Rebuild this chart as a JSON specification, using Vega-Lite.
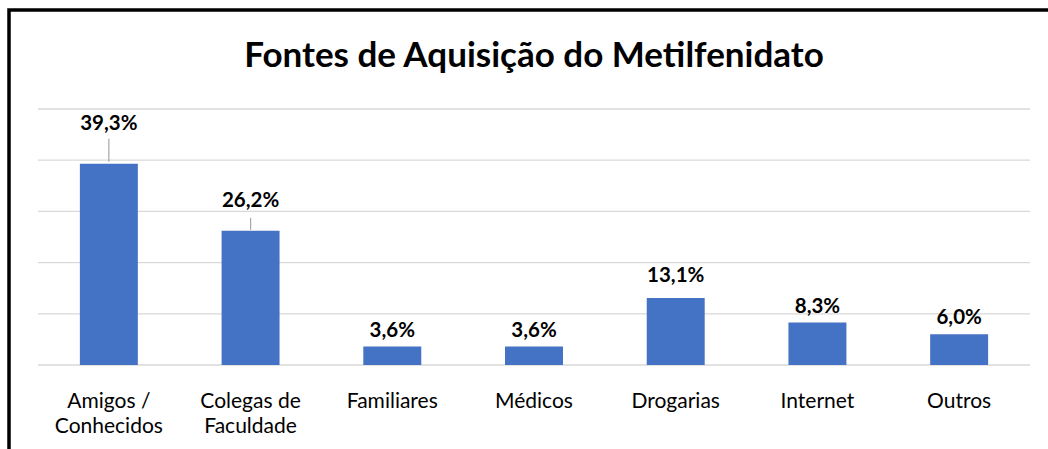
{
  "$schema": "https://vega.github.io/schema/vega-lite/v6.json",
  "width": 1044,
  "height": 449,
  "autosize": "none",
  "padding": {"left": 9, "top": 10, "right": -5, "bottom": -10},
  "background": "white",
  "config": {
    "view": {"stroke": "black", "strokeWidth": 3.5},
    "font": "Lato",
    "locale": {"number": {"decimal": ",", "thousands": ".", "grouping": [3], "currency": ["", ""]}}
  },
  "title": {
    "text": "Fontes de Aquisição do Metilfenidato",
    "font": "Lato",
    "fontSize": 35,
    "fontWeight": "bold",
    "color": "black",
    "anchor": "middle",
    "frame": "group",
    "baseline": "alphabetic",
    "offset": -92,
    "dx": 3
  },
  "data": {
    "values": [
      {"fonte": "Amigos / Conhecidos", "v": 0.393},
      {"fonte": "Colegas de Faculdade", "v": 0.262},
      {"fonte": "Familiares", "v": 0.036},
      {"fonte": "Médicos", "v": 0.036},
      {"fonte": "Drogarias", "v": 0.131},
      {"fonte": "Internet", "v": 0.083},
      {"fonte": "Outros", "v": 0.060}
    ]
  },
  "encoding": {
    "x": {
      "field": "fonte",
      "type": "nominal",
      "sort": null,
      "scale": {
        "domain": ["Amigos / Conhecidos", "Colegas de Faculdade", "Familiares", "Médicos", "Drogarias", "Internet", "Outros"],
        "range": [29, 1021],
        "paddingInner": 0.591,
        "paddingOuter": 0.2955
      },
      "axis": {
        "orient": "bottom",
        "offset": -94,
        "title": null,
        "domain": false,
        "ticks": false,
        "grid": false,
        "labelAngle": 0,
        "labelFont": "Lato",
        "labelFontSize": 21,
        "labelColor": "black",
        "labelPadding": 42,
        "labelLineHeight": 25,
        "labelBaseline": "alphabetic",
        "labelExpr": "datum.value == 'Amigos / Conhecidos' ? ['Amigos /', 'Conhecidos'] : datum.value == 'Colegas de Faculdade' ? ['Colegas de', 'Faculdade'] : datum.value"
      }
    },
    "y": {
      "field": "v",
      "type": "quantitative",
      "scale": {"domain": [0, 0.5], "range": [355, 99], "nice": false, "zero": true},
      "axis": null
    }
  },
  "layer": [
    {
      "data": {"values": [{"g": 0}, {"g": 0.1}, {"g": 0.2}, {"g": 0.3}, {"g": 0.4}, {"g": 0.5}]},
      "mark": {"type": "rule", "color": "#d9d9d9", "strokeWidth": 1.3, "xOffset": -70.86, "x2Offset": 70.86},
      "encoding": {
        "x": {"datum": "Amigos / Conhecidos", "type": "nominal"},
        "x2": {"datum": "Outros"},
        "y": {"field": "g", "type": "quantitative"}
      }
    },
    {
      "mark": {"type": "bar", "color": "#4472C4"}
    },
    {
      "transform": [{"filter": "datum.fonte != 'Amigos / Conhecidos' && datum.fonte != 'Colegas de Faculdade' && datum.fonte != 'Drogarias'"}],
      "mark": {"type": "text", "baseline": "alphabetic", "dy": -10, "fontSize": 20.5, "fontWeight": "bold", "color": "black"},
      "encoding": {"text": {"field": "v", "type": "quantitative", "format": ".1%"}}
    },
    {
      "transform": [{"filter": "datum.fonte == 'Drogarias'"}],
      "mark": {"type": "text", "baseline": "alphabetic", "dy": -16, "fontSize": 20.5, "fontWeight": "bold", "color": "black"},
      "encoding": {"text": {"field": "v", "type": "quantitative", "format": ".1%"}}
    },
    {
      "transform": [{"filter": "datum.fonte == 'Amigos / Conhecidos'"}],
      "mark": {"type": "text", "baseline": "alphabetic", "dy": -34, "fontSize": 20.5, "fontWeight": "bold", "color": "black"},
      "encoding": {"text": {"field": "v", "type": "quantitative", "format": ".1%"}}
    },
    {
      "transform": [{"filter": "datum.fonte == 'Colegas de Faculdade'"}],
      "mark": {"type": "text", "baseline": "alphabetic", "dy": -24, "fontSize": 20.5, "fontWeight": "bold", "color": "black"},
      "encoding": {"text": {"field": "v", "type": "quantitative", "format": ".1%"}}
    },
    {
      "transform": [{"filter": "datum.fonte == 'Amigos / Conhecidos'"}],
      "mark": {"type": "rule", "color": "#a6a6a6", "strokeWidth": 1.2, "yOffset": -2, "y2Offset": -25},
      "encoding": {"y2": {"field": "v"}}
    },
    {
      "transform": [{"filter": "datum.fonte == 'Colegas de Faculdade'"}],
      "mark": {"type": "rule", "color": "#a6a6a6", "strokeWidth": 1.2, "yOffset": -1, "y2Offset": -13},
      "encoding": {"y2": {"field": "v"}}
    }
  ]
}
